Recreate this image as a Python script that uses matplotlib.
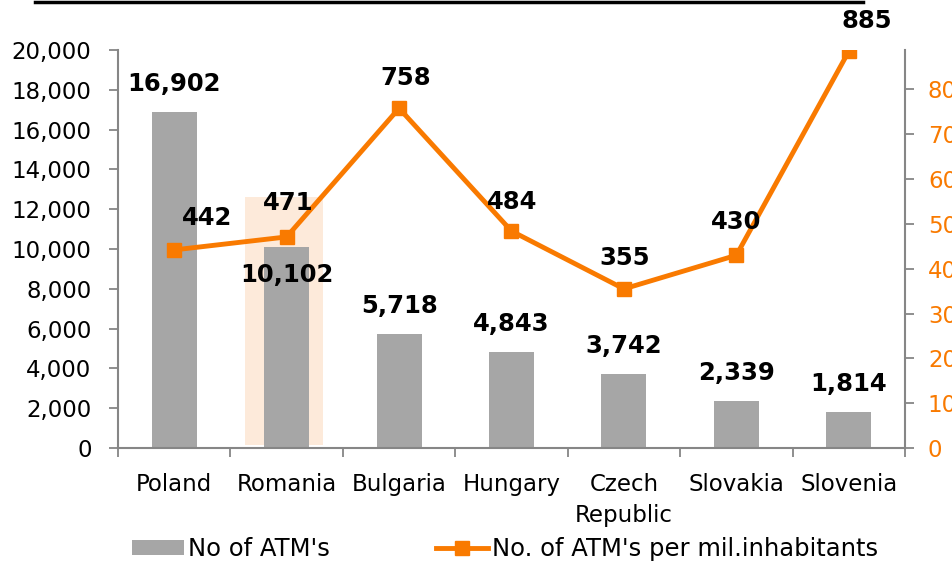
import matplotlib
matplotlib.use("Agg")
import matplotlib.pyplot as plt
from matplotlib.patches import Rectangle
from matplotlib.lines import Line2D

countries = ["Poland", "Romania", "Bulgaria", "Hungary", "Czech\nRepublic", "Slovakia", "Slovenia"]
atms = [16902, 10102, 5718, 4843, 3742, 2339, 1814]
atms_per_mil = [442, 471, 758, 484, 355, 430, 885]
left_ticks = list(range(0, 20001, 2000))
right_ticks = list(range(0, 801, 100))

ORANGE = "#F97A00"
GRAY = "#A6A6A6"
SPINE = "#868686"

plt.rcParams['font.family'] = ['DejaVu Sans']
FS = 16.5
FSB = 17.5

fig = plt.figure(figsize=(9.53, 5.63), dpi=100)
ax = fig.add_axes([118 / 953, 115 / 563, 787 / 953, 398 / 563])
ax2 = ax.twinx()

x = list(range(len(countries)))

# highlight behind Romania
ax.add_patch(Rectangle((0.63, 150), 0.69, 12450, facecolor="#FDEADA", edgecolor="none", zorder=0))
ax.bar(x, atms, width=0.4, color=GRAY, zorder=2)

ax.set_xlim(-0.5, len(countries) - 0.5)
ax.set_ylim(0, 20000)
ax.set_yticks(left_ticks)
ax.set_yticklabels([f"{v:,}" for v in left_ticks], fontsize=FS)
ax.set_xticks([i + 0.5 for i in range(-1, len(countries))])
ax.set_xticklabels([])
ax.set_xticks(x, minor=True)
ax.set_xticklabels(countries, minor=True, fontsize=FS, linespacing=1.45)
ax.tick_params(axis="x", which="major", length=6.5, color=SPINE, width=1.3)
ax.tick_params(axis="x", which="minor", length=0, pad=18)
ax.tick_params(axis="y", length=6.5, color=SPINE, width=1.3, pad=12.5)

for s in ["top", "right"]:
    ax.spines[s].set_visible(False)
for s in ["left", "bottom"]:
    ax.spines[s].set_color(SPINE)
    ax.spines[s].set_linewidth(1.5)

for i, v in enumerate(atms):
    dy = -28 if i == 1 else 28
    ax.annotate(f"{v:,}", (i, v), xytext=(0, dy), textcoords="offset pixels",
                ha="center", va="center", fontsize=FSB, fontweight="bold", zorder=5)

ax2.plot(x, atms_per_mil, color=ORANGE, lw=3.5, marker="s", markersize=10.5, zorder=4)
ax2.set_ylim(0, 888)
ax2.set_yticks(right_ticks)
ax2.set_yticklabels([str(v) for v in right_ticks], fontsize=FS, color=ORANGE)
ax2.tick_params(axis="y", length=6.5, color=SPINE, width=1.3, pad=10)
for s in ["top", "left", "bottom"]:
    ax2.spines[s].set_visible(False)
ax2.spines["right"].set_color(SPINE)
ax2.spines["right"].set_linewidth(1.5)

line_offsets = [(33, 32), (2, 34), (7, 30), (1, 29), (1, 31), (0, 33), (18, 30)]
for i, v in enumerate(atms_per_mil):
    ax2.annotate(str(v), (i, v), xytext=line_offsets[i], textcoords="offset pixels",
                 ha="center", va="center", fontsize=FSB, fontweight="bold", zorder=6)

# top rule
fig.add_artist(Line2D([35 / 953, 863 / 953], [1 - 2 / 563, 1 - 2 / 563], color="black", lw=2.5))

handles = [Rectangle((0, 0), 1, 1, facecolor=GRAY, edgecolor="none"),
           Line2D([], [], color=ORANGE, lw=3.5, marker="s", markersize=10.5)]
fig.legend(handles, ["No of ATM's", "No. of ATM's per mil.inhabitants"],
           loc="center", bbox_to_anchor=(505 / 953, 1 - 549 / 563), ncol=2, frameon=False,
           fontsize=FSB, handlelength=2.14, handletextpad=0.16, columnspacing=4.4,
           handleheight=0.6)

fig.savefig("out.png", dpi=100)
